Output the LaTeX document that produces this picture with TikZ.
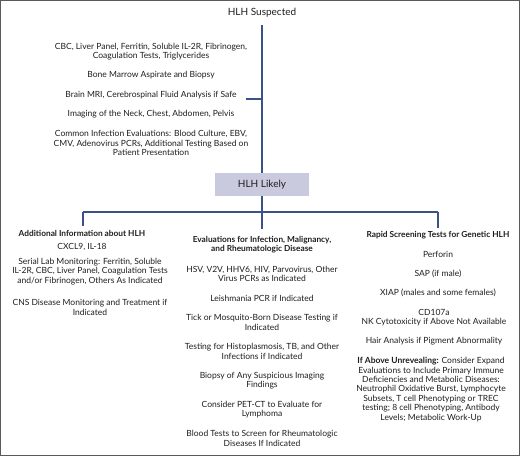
\documentclass[tikz,border=0pt]{standalone}
\usepackage{fontspec}
\setmainfont{Lato}
\definecolor{linec}{HTML}{3D5189}
\definecolor{boxc}{HTML}{C9CADD}
\definecolor{txtc}{HTML}{1E1E1E}
\definecolor{framec}{HTML}{5A5A5A}
\tikzset{
  item/.style={align=center,inner sep=0pt,text=txtc,font=\fontsize{8.5}{9.4}\selectfont},
  head/.style={item,font=\bfseries\fontsize{8.3}{9.4}\selectfont},
  title/.style={inner sep=0pt,text=txtc,font=\fontsize{10}{11}\selectfont},
  likelybox/.style={draw=none,fill=boxc,minimum width=94pt,minimum height=23pt,inner sep=0pt,text=txtc,font=\fontsize{10}{11}\selectfont},
  conn/.style={draw=linec,line width=1.1pt}
}
\begin{document}
\begin{tikzpicture}[x=1pt,y=-1pt]
\useasboundingbox (0,0) rectangle (520,456);
\draw[framec,line width=1.2pt] (0.6,0.6) rectangle (519.4,455.4);

% top
\node[title] (sus) at (262,13) {HLH Suspected};
\node[item] (t1) at (151,51.5) {CBC, Liver Panel, Ferritin, Soluble IL-2R, Fibrinogen,\\Coagulation Tests, Triglycerides};
\node[item] (t2) at (151,75) {Bone Marrow Aspirate and Biopsy};
\node[item] (t3) at (151,95) {Brain MRI, Cerebrospinal Fluid Analysis if Safe};
\node[item] (t4) at (151,114) {Imaging of the Neck, Chest, Abdomen, Pelvis};
\node[item] (t5) at (151,143) {Common Infection Evaluations: Blood Culture, EBV,\\CMV, Adenovirus PCRs, Additional Testing Based on\\Patient Presentation};

\node[likelybox] (likely) at (262,184.5) {HLH Likely};

\coordinate (vtop) at (262,25);
\coordinate (tickA) at (246,99);
\coordinate (tickB) at (262,99);
\coordinate (cJ) at (262,212);
\coordinate (lJ) at (83,212);
\coordinate (rJ) at (438,212);
\coordinate (lEnd) at (83,226);
\coordinate (cEnd) at (262,229);
\coordinate (rEnd) at (438,228);

\draw[conn] (vtop) -- (likely.north);
\draw[conn] (tickA) -- (tickB);
\draw[conn] (likely.south) -- (cEnd);
\draw[conn] (lJ) -- (rJ);
\draw[conn] (lJ) -- (lEnd);
\draw[conn] (rJ) -- (rEnd);

% left column
\node[head] (l0) at (82,233) {Additional Information about HLH};
\node[item] (l1) at (82,247) {CXCL9, IL-18};
\node[item] (l2) at (90,271.5) {Serial Lab Monitoring: Ferritin, Soluble\\IL-2R, CBC, Liver Panel, Coagulation Tests\\and/or Fibrinogen, Others As Indicated};
\node[item] (l3) at (90,307.5) {CNS Disease Monitoring and Treatment if\\Indicated};

% middle column
\node[head] (m0) at (262,244.5) {Evaluations for Infection, Malignancy,\\and Rheumatologic Disease};
\node[item] (m1) at (262,274) {HSV, V2V, HHV6, HIV, Parvovirus, Other\\Virus PCRs as Indicated};
\node[item] (m2) at (262,298.5) {Leishmania PCR if Indicated};
\node[item] (m3) at (262,322.5) {Tick or Mosquito-Born Disease Testing if\\Indicated};
\node[item] (m4) at (262,351.5) {Testing for Histoplasmosis, TB, and Other\\Infections if Indicated};
\node[item] (m5) at (262,380.5) {Biopsy of Any Suspicious Imaging\\Findings};
\node[item] (m6) at (262,409.5) {Consider PET-CT to Evaluate for\\Lymphoma};
\node[item] (m7) at (262,438.5) {Blood Tests to Screen for Rheumatologic\\Diseases If Indicated};

% right column
\node[head] (r0) at (438,235) {Rapid Screening Tests for Genetic HLH};
\node[item] (r1) at (438,254) {Perforin};
\node[item] (r2) at (438,273.5) {SAP (if male)};
\node[item] (r3) at (438,293) {XIAP (males and some females)};
\node[item] (r4) at (434,317.5) {CD107a\\NK Cytotoxicity if Above Not Available};
\node[item] (r5) at (434,341.5) {Hair Analysis if Pigment Abnormality};
\node[item] (r6) at (431,389.5) {\textbf{If Above Unrevealing:} Consider Expand\\Evaluations to Include Primary Immune\\Deficiencies and Metabolic Diseases:\\Neutrophil Oxidative Burst, Lymphocyte\\Subsets, T cell Phenotyping or TREC\\testing; 8 cell Phenotyping, Antibody\\Levels; Metabolic Work-Up};
\end{tikzpicture}
\end{document}
